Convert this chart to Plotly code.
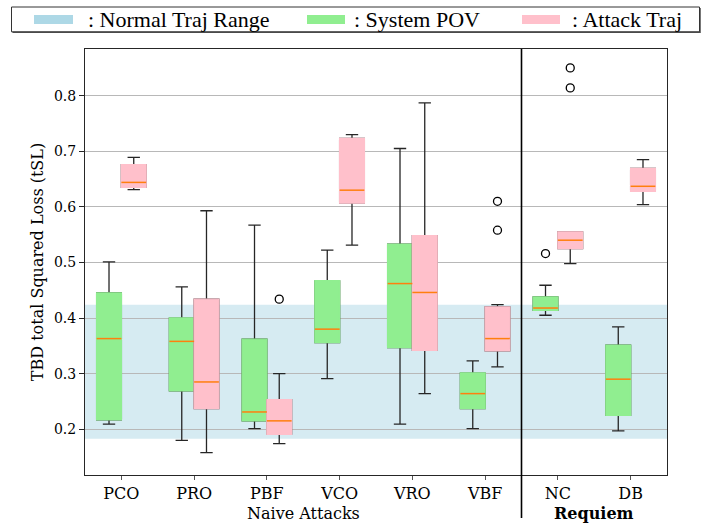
import plotly.graph_objects as go

# ---- data -------------------------------------------------------------
categories = ["PCO", "PRO", "PBF", "VCO", "VRO", "VBF", "NC", "DB"]
positions = [1, 2, 3, 4, 5, 6, 7, 8]

# System POV box statistics
pov_q1 = [0.217, 0.269, 0.215, 0.356, 0.347, 0.237, 0.414, 0.225]
pov_median = [0.363, 0.358, 0.231, 0.380, 0.462, 0.264, 0.418, 0.290]
pov_q3 = [0.445, 0.400, 0.362, 0.467, 0.533, 0.301, 0.438, 0.351]
pov_low = [0.209, 0.180, 0.201, 0.291, 0.209, 0.201, 0.405, 0.197]
pov_high = [0.501, 0.456, 0.567, 0.522, 0.705, 0.323, 0.459, 0.384]
pov_outlier_cat = ["NC"]
pov_outlier_val = [0.516]

# Attack trajectory box statistics
atk_q1 = [0.635, 0.237, 0.191, 0.607, 0.342, 0.341, 0.525, 0.628]
atk_median = [0.644, 0.285, 0.215, 0.630, 0.446, 0.363, 0.540, 0.637]
atk_q3 = [0.676, 0.434, 0.253, 0.723, 0.548, 0.420, 0.555, 0.669]
atk_low = [0.631, 0.158, 0.174, 0.531, 0.264, 0.312, 0.498, 0.604]
atk_high = [0.689, 0.593, 0.300, 0.730, 0.787, 0.424, 0.555, 0.685]
atk_outlier_cat = ["PBF", "VBF", "VBF", "NC", "NC"]
atk_outlier_val = [0.434, 0.610, 0.558, 0.850, 0.814]

# Range of tSL observed on normal trajectories
normal_range = [0.183, 0.424]

yticks = [0.2, 0.3, 0.4, 0.5, 0.6, 0.7, 0.8]

# ---- styling ----------------------------------------------------------
GREEN = "#90ee90"
PINK = "#ffc0cb"
BLUE = "#add8e6"
MEDIAN = "#ff7f0e"
WHISK = "#262626"
OFFSET = 0.17
BOXW = 0.34
SERIF = "DejaVu Serif"
LEGEND_FONT = "Liberation Serif"

W, H = 716, 525
ML, MR, MT, MB = 85, 49, 49, 50
PW, PH = W - ML - MR, H - MT - MB


def px_x(px):
    return (px - ML) / PW


def px_y(py):
    return (H - MB - py) / PH


cat_pos = dict(zip(categories, positions))

fig = go.Figure()


def add_group(shift, q1, med, q3, lo, hi, color, out_cat, out_val):
    xs = [p + shift for p in positions]
    # whiskers (and a box outline that is covered next)
    fig.add_trace(go.Box(
        x=xs, q1=q1, median=med, q3=q3, lowerfence=lo, upperfence=hi,
        width=BOXW, whiskerwidth=0.5, fillcolor=color,
        line=dict(color=WHISK, width=1.3), boxpoints=False,
        showlegend=False, hoverinfo="skip"))
    # box body without an outline
    fig.add_trace(go.Box(
        x=xs, q1=q1, median=q1, q3=q3, lowerfence=q1, upperfence=q3,
        width=BOXW, whiskerwidth=0, fillcolor=color,
        line=dict(color=color, width=1.4), boxpoints=False,
        showlegend=False, hoverinfo="skip"))
    # median lines
    mx, my = [], []
    for x, m in zip(xs, med):
        mx += [x - BOXW / 2, x + BOXW / 2, None]
        my += [m, m, None]
    fig.add_trace(go.Scatter(
        x=mx, y=my, mode="lines", line=dict(color=MEDIAN, width=1.5),
        showlegend=False, hoverinfo="skip"))
    # fliers
    fig.add_trace(go.Scatter(
        x=[cat_pos[c] + shift for c in out_cat], y=out_val, mode="markers",
        marker=dict(symbol="circle-open", size=8, color="black",
                    line=dict(width=1.3, color="black")),
        showlegend=False, hoverinfo="skip"))


add_group(-OFFSET, pov_q1, pov_median, pov_q3, pov_low, pov_high, GREEN,
          pov_outlier_cat, pov_outlier_val)
add_group(+OFFSET, atk_q1, atk_median, atk_q3, atk_low, atk_high, PINK,
          atk_outlier_cat, atk_outlier_val)

shapes = [
    # normal trajectory band
    dict(type="rect", xref="paper", yref="y", x0=0, x1=1,
         y0=normal_range[0], y1=normal_range[1], fillcolor=BLUE,
         opacity=0.5, line=dict(width=0), layer="below"),
    # separator between naive attacks and Requiem
    dict(type="line", xref="x", yref="paper", x0=6.5, x1=6.5,
         y0=1, y1=px_y(518), line=dict(color="black", width=1.6)),
    # legend frame shadow and frame
    dict(type="rect", xref="paper", yref="paper",
         x0=px_x(12.5), x1=px_x(700.8), y0=px_y(33), y1=px_y(8),
         fillcolor="#555555", line=dict(width=0)),
    dict(type="rect", xref="paper", yref="paper",
         x0=px_x(11.5), x1=px_x(699.5), y0=px_y(31.8), y1=px_y(7),
         fillcolor="white", line=dict(color="#333333", width=1)),
]

legend_items = [
    (BLUE, 34, 73, ": Normal Traj Range", 86),
    (GREEN, 307, 345, ": System POV", 352),
    (PINK, 522, 560, ": Attack Traj", 570),
]
annotations = []
for color, x0, x1, label, tx in legend_items:
    shapes.append(dict(type="rect", xref="paper", yref="paper",
                       x0=px_x(x0), x1=px_x(x1), y0=px_y(24), y1=px_y(15),
                       fillcolor=color, line=dict(width=0)))
    annotations.append(dict(xref="paper", yref="paper", x=px_x(tx),
                            y=px_y(19.5), xanchor="left", yanchor="middle",
                            text=label, showarrow=False,
                            font=dict(family=LEGEND_FONT, size=22,
                                      color="black")))

annotations += [
    dict(xref="x", yref="paper", x=3.5, y=0, yshift=-38, text="Naive Attacks",
         showarrow=False, yanchor="middle",
         font=dict(family=SERIF, size=16, color="black")),
    dict(xref="x", yref="paper", x=7.5, y=0, yshift=-38, text="<b>Requiem</b>",
         showarrow=False, yanchor="middle",
         font=dict(family=SERIF, size=16, color="black")),
]

fig.update_layout(
    width=W, height=H,
    margin=dict(l=ML, r=MR, t=MT, b=MB, pad=0),
    paper_bgcolor="white", plot_bgcolor="white",
    boxmode="overlay", showlegend=False,
    shapes=shapes, annotations=annotations,
    font=dict(family=SERIF, size=14, color="black"),
)
fig.update_xaxes(
    range=[0.5, 8.5], tickvals=positions, ticktext=categories,
    showgrid=False, zeroline=False, showline=True, mirror=True,
    linecolor="#262626", linewidth=1, ticks="outside", ticklen=4,
    tickcolor="#555555", tickfont=dict(family=SERIF, size=16),
)
fig.update_yaxes(
    range=[0.1176, 0.884], tickvals=yticks,
    ticktext=[f"{v:.1f}" for v in yticks],
    showgrid=True, gridcolor="#b8b8b8", gridwidth=1, zeroline=False,
    showline=True, mirror=True, linecolor="#262626", linewidth=1,
    ticks="outside", ticklen=5, tickcolor="#262626",
    tickfont=dict(family=SERIF, size=14),
    title=dict(text="TBD total Squared Loss (tSL)", standoff=6,
               font=dict(family=SERIF, size=16)),
)

fig.write_html("out.html")
